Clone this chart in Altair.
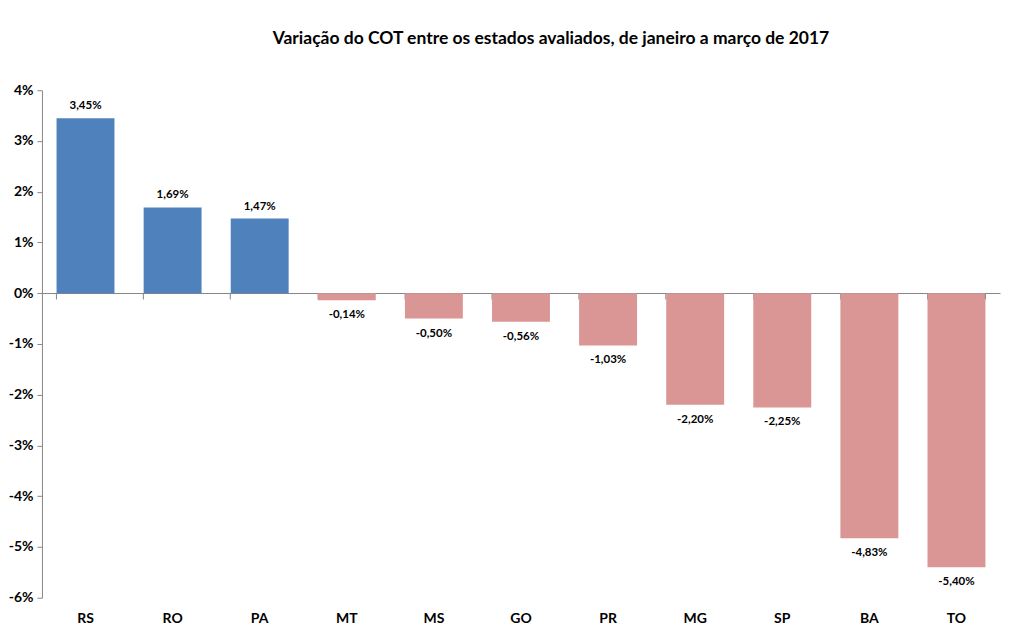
import altair as alt
import pandas as pd

states = ["RS", "RO", "PA", "MT", "MS", "GO", "PR", "MG", "SP", "BA", "TO"]
values = [3.45, 1.69, 1.47, -0.14, -0.50, -0.56, -1.03, -2.20, -2.25, -4.83, -5.40]
y_ticks = [-6, -5, -4, -3, -2, -1, 0, 1, 2, 3, 4]
title_text = "Variação do COT entre os estados avaliados, de janeiro a março de 2017"

labels = [f"{v:.2f}".replace(".", ",") + "%" for v in values]
df = pd.DataFrame({"state": states, "value": values, "label": labels,
                   "sign": ["pos" if v >= 0 else "neg" for v in values]})

FONT = "Lato"
W, H = 959, 508

x_enc = alt.X("state:N", sort=states,
              scale=alt.Scale(paddingInner=0.335, paddingOuter=0.1675),
              axis=alt.Axis(title=None, orient="bottom", offset=-305, bandPosition=0,
                            grid=False,
                            domainColor="#868686", tickColor="#868686", tickSize=6,
                            labelPadding=313, labelFont=FONT, labelFontSize=14,
                            labelFontWeight="bold", labelColor="#000000", labelAngle=0))
y_scale = alt.Scale(domain=[-6, 4], nice=False)
y_enc = alt.Y("value:Q", scale=y_scale,
              axis=alt.Axis(title=None, values=y_ticks, labelExpr="datum.value + '%'",
                            grid=False, domainColor="#868686", tickColor="#868686",
                            tickSize=5, labelPadding=4, labelFont=FONT, labelFontSize=14,
                            labelFontWeight="bold", labelColor="#000000"))

base = alt.Chart(df)

bars = base.mark_bar().encode(
    x=x_enc,
    y=y_enc,
    y2=alt.datum(0),
    color=alt.Color("sign:N", scale=alt.Scale(domain=["pos", "neg"], range=["#4F81BD", "#D99694"]),
                    legend=None),
)

pos_text = base.transform_filter("datum.value >= 0").mark_text(
    baseline="bottom", dy=-7, font=FONT, fontSize=11.5, fontWeight="bold", color="#000000"
).encode(x=alt.X("state:N", sort=states), y=alt.Y("value:Q"), text="label:N")

neg_text = base.transform_filter("datum.value < 0").mark_text(
    baseline="top", dy=9, font=FONT, fontSize=11.5, fontWeight="bold", color="#000000"
).encode(x=alt.X("state:N", sort=states), y=alt.Y("value:Q"), text="label:N")

end_tick = base.transform_filter(alt.datum.state == states[-1]).mark_rule(
    color="#868686", strokeWidth=1
).encode(
    x=alt.X("state:N", sort=states, bandPosition=1), y=alt.datum(0), y2=alt.datum(-0.12)
)

chart = alt.layer(bars, pos_text, neg_text, end_tick).properties(
    width=W, height=H,
    background="white",
    title=alt.TitleParams(title_text, font=FONT, fontSize=17.5, fontWeight="bold",
                          color="#000000", anchor="middle", dx=30, offset=36),
    autosize=alt.AutoSizeParams(type="none"),
    padding={"left": 34, "top": 82, "right": 5, "bottom": 30},
).configure_view(stroke="#ffffff", strokeWidth=1)

chart.save("out.html", embed_options={"renderer": "svg", "actions": False})
